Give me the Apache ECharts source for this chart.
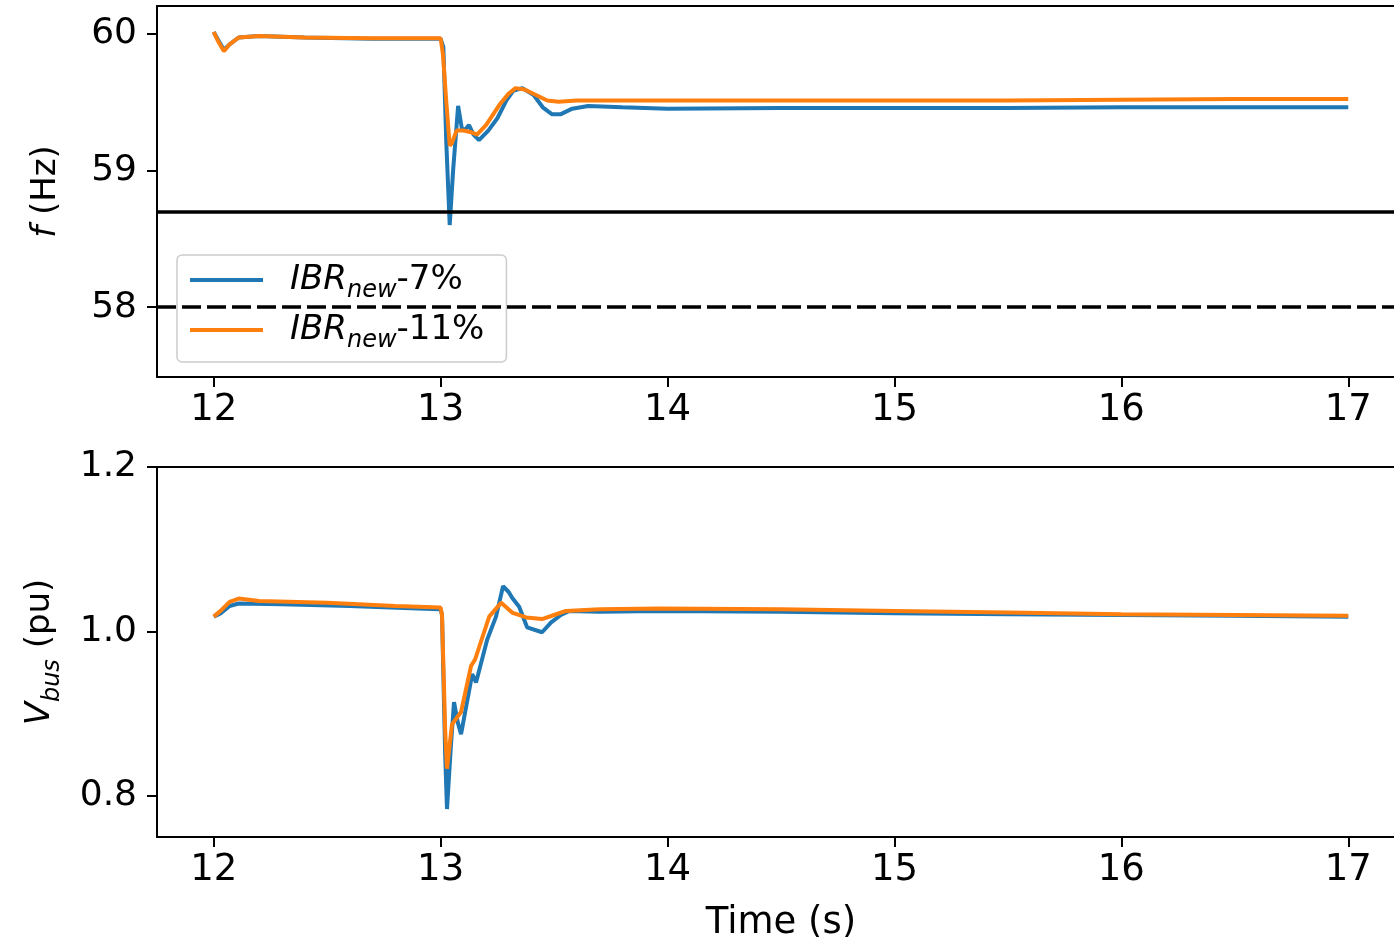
<!DOCTYPE html>
<html>
<head>
<meta charset="utf-8">
<script src="https://cdn.jsdelivr.net/npm/echarts@6/dist/echarts.min.js"></script>
<style>html,body{margin:0;padding:0;background:#fff}#c{width:1394px;height:937px}</style>
</head>
<body>
<div id="c"></div>
<script>
// ---- data ----
const xTicks = [12, 13, 14, 15, 16, 17];
const fTicks = [58, 59, 60];
const vTicks = [0.8, 1.0, 1.2];
const seriesNames = ['IBR_new-7%', 'IBR_new-11%'];
const fLimitSolid = 58.7;
const fLimitDashed = 58.0;

// frequency, IBR_new-7%
const tF7 = [12.00,12.02,12.045,12.07,12.11,12.2,12.4,12.7,13.0,13.012,13.025,13.04,13.055,13.077,13.094,13.11,13.125,13.145,13.169,13.21,13.25,13.29,13.32,13.36,13.41,13.45,13.49,13.53,13.58,13.65,13.8,14.0,14.5,15.0,15.5,16.0,16.5,17.0];
const vF7 = [60.01,59.95,59.88,59.92,59.97,59.98,59.97,59.96,59.96,59.90,59.2,58.6,59.0,59.47,59.30,59.30,59.33,59.26,59.22,59.29,59.38,59.51,59.58,59.60,59.55,59.46,59.41,59.41,59.45,59.47,59.46,59.45,59.455,59.455,59.455,59.46,59.46,59.46];
// frequency, IBR_new-11%
const tF11 = [12.00,12.02,12.045,12.07,12.11,12.2,12.4,12.7,13.0,13.01,13.025,13.04,13.05,13.07,13.1,13.13,13.16,13.2,13.26,13.3,13.33,13.37,13.42,13.47,13.52,13.6,13.8,14.5,15.5,16.5,17.0];
const vF11 = [60.01,59.94,59.87,59.92,59.97,59.98,59.97,59.965,59.965,59.85,59.5,59.18,59.20,59.29,59.29,59.28,59.26,59.33,59.48,59.56,59.60,59.59,59.55,59.51,59.50,59.51,59.51,59.51,59.51,59.52,59.52];
// bus voltage, IBR_new-7%
const tV7 = [12.00,12.03,12.07,12.11,12.3,12.6,12.9,13.0,13.006,13.02,13.028,13.045,13.059,13.075,13.09,13.139,13.156,13.205,13.244,13.275,13.30,13.315,13.346,13.381,13.447,13.487,13.53,13.567,13.7,13.964,14.5,15.0,15.5,16.0,16.5,17.0];
const vV7 = [1.018,1.022,1.031,1.034,1.033,1.031,1.028,1.027,1.02,0.85,0.784,0.86,0.914,0.89,0.875,0.948,0.938,0.99,1.018,1.055,1.048,1.041,1.03,1.005,0.999,1.011,1.02,1.025,1.024,1.025,1.024,1.022,1.021,1.02,1.019,1.018];
// bus voltage, IBR_new-11%
const tV11 = [12.00,12.03,12.07,12.11,12.2,12.5,12.8,13.0,13.006,13.02,13.028,13.05,13.09,13.134,13.152,13.214,13.267,13.315,13.377,13.447,13.5,13.553,13.7,13.964,14.5,15.0,15.5,16.0,16.5,17.0];
const vV11 = [1.018,1.025,1.036,1.040,1.037,1.035,1.031,1.029,1.02,0.88,0.833,0.887,0.902,0.958,0.966,1.018,1.035,1.023,1.017,1.015,1.02,1.025,1.027,1.028,1.027,1.025,1.023,1.021,1.02,1.019];

const pair = (t, v) => t.map((x, i) => [x, v[i]]);

// ---- styling ----
const FONT = 'DejaVu Sans';
const BLUE = '#1f77b4', ORANGE = '#ff7f0e';

function xAxis(gi, withName) {
  return {
    type: 'value', gridIndex: gi, min: 11.75, max: 17.25, position: 'bottom',
    axisLine: { show: true, onZero: false, lineStyle: { color: '#000', width: 2 } },
    axisTick: { show: true, length: 10, lineStyle: { color: '#000', width: 2 }, customValues: xTicks },
    axisLabel: { color: '#000', fontSize: 37, fontFamily: FONT, margin: 15, customValues: xTicks },
    splitLine: { show: false },
    name: withName ? 'Time (s)' : '',
    nameLocation: 'middle', nameGap: 68,
    nameTextStyle: { color: '#000', fontSize: 37, fontFamily: FONT }
  };
}
function topSpine(gi) {
  return {
    type: 'value', gridIndex: gi, min: 11.75, max: 17.25, position: 'top',
    axisLine: { show: true, onZero: false, lineStyle: { color: '#000', width: 2 } },
    axisTick: { show: false }, axisLabel: { show: false }, splitLine: { show: false }
  };
}
function yAxis(gi, min, max, ticks, fmt, name, gap) {
  return {
    type: 'value', gridIndex: gi, min: min, max: max,
    axisLine: { show: true, onZero: false, lineStyle: { color: '#000', width: 2 } },
    axisTick: { show: true, length: 10, lineStyle: { color: '#000', width: 2 }, customValues: ticks },
    axisLabel: { color: '#000', fontSize: 36, fontFamily: FONT, margin: 20, customValues: ticks, formatter: fmt },
    splitLine: { show: false },
    name: name, nameLocation: 'middle', nameGap: gap, nameRotate: 90,
    nameTextStyle: {
      color: '#000', fontSize: 34, fontFamily: FONT,
      rich: {
        i: { fontStyle: 'italic', fontSize: 34, fontFamily: FONT, color: '#000' },
        s: { fontStyle: 'italic', fontSize: 24, fontFamily: FONT, color: '#000', verticalAlign: 'bottom', padding: [0, 0, -8, 0] }
      }
    }
  };
}

const lineSeries = (name, data, color, xi, yi, extra) => Object.assign({
  type: 'line', name: name, xAxisIndex: xi, yAxisIndex: yi, data: data,
  showSymbol: false, symbol: 'none', smooth: false,
  lineStyle: { color: color, width: 4 }, itemStyle: { color: color }
}, extra || {});

const chart = echarts.init(document.getElementById('c'), null, { renderer: 'canvas' });
chart.setOption({
  animation: false,
  backgroundColor: '#fff',
  grid: [
    { left: 157, top: 6, width: 1248, height: 371, outerBoundsMode: 'none', containLabel: false, show: false },
    { left: 157, top: 467, width: 1248, height: 370, outerBoundsMode: 'none', containLabel: false, show: false }
  ],
  xAxis: [xAxis(0, false), xAxis(1, true), topSpine(0), topSpine(1)],
  yAxis: [
    yAxis(0, 57.49, 60.2, fTicks, v => String(v), '{i|f} (Hz)', 94),
    yAxis(1, 0.75, 1.2, vTicks, v => v.toFixed(1), '{i|V}{s|bus} (pu)', 100)
  ],
  legend: {
    data: seriesNames,
    orient: 'vertical', left: 177, top: 255,
    padding: [5, 22, 9, 13],
    itemWidth: 73, itemHeight: 4, itemGap: 7, icon: 'rect',
    backgroundColor: 'rgba(255,255,255,0.8)',
    borderColor: '#cccccc', borderWidth: 1.5, borderRadius: 5,
    formatter: n => n === seriesNames[0] ? '{i|IBR}{s|new}-7%' : '{i|IBR}{s|new}-11%',
    textStyle: {
      color: '#000', fontSize: 34, fontFamily: FONT, lineHeight: 40, padding: [0, 0, 0, 22],
      rich: {
        i: { fontStyle: 'italic', fontSize: 34, fontFamily: FONT, color: '#000', lineHeight: 40 },
        s: { fontStyle: 'italic', fontSize: 24, fontFamily: FONT, color: '#000', verticalAlign: 'bottom', lineHeight: 24, padding: [0, 0, -3, 0] }
      }
    }
  },
  series: [
    lineSeries(seriesNames[0], pair(tF7, vF7), BLUE, 0, 0, {
      markLine: {
        silent: true, symbol: 'none', label: { show: false }, animation: false,
        data: [
          { yAxis: fLimitSolid, lineStyle: { color: '#000', width: 3.5, type: 'solid' } },
          { yAxis: fLimitDashed, lineStyle: { color: '#000', width: 3.5, type: [19, 6] } }
        ]
      }
    }),
    lineSeries(seriesNames[1], pair(tF11, vF11), ORANGE, 0, 0),
    lineSeries(seriesNames[0], pair(tV7, vV7), BLUE, 1, 1),
    lineSeries(seriesNames[1], pair(tV11, vV11), ORANGE, 1, 1)
  ]
});
</script>
</body>
</html>
